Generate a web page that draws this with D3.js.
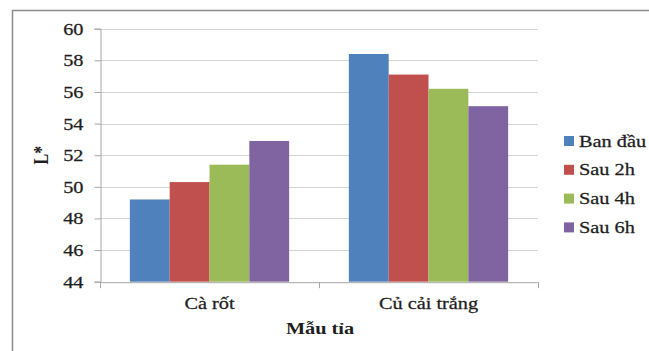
<!DOCTYPE html>
<html>
<head>
<meta charset="utf-8">
<script src="https://cdn.jsdelivr.net/npm/d3@7"></script>
<style>
  html, body { margin: 0; padding: 0; background: #fff; }
  svg { display: block; }
</style>
</head>
<body>
<svg id="chart" width="649" height="351"></svg>
<script>
// Lightness (L*) of carved vegetables over time
const categories = ["Cà rốt", "Củ cải trắng"];
const seriesNames = ["Ban đầu", "Sau 2h", "Sau 4h", "Sau 6h"];
const banDau = [49.2, 58.4];
const sau2h  = [50.3, 57.1];
const sau4h  = [51.4, 56.2];
const sau6h  = [52.9, 55.1];
const yTicks = [44, 46, 48, 50, 52, 54, 56, 58, 60];
const colors = ["#4f81bd", "#c0504d", "#9bbb59", "#8064a2"];

const seriesValues = [banDau, sau2h, sau4h, sau6h];
const SX = 1.27; // horizontal text stretch
const FS = 16;
const FONT = "'Liberation Serif', 'DejaVu Serif', serif";

const svg = d3.select("#chart");

function styleText(sel, bold) {
  return sel.style("font-family", FONT)
    .style("font-size", FS + "px")
    .style("font-weight", bold ? "bold" : "normal")
    .style("fill", "#1e1e1e")
    .style("stroke", "#1e1e1e")
    .style("stroke-width", bold ? 0 : 0.25);
}

// outer chart frame
svg.append("rect")
  .attr("x", 12.5).attr("y", 10.5)
  .attr("width", 700).attr("height", 400)
  .attr("fill", "none").attr("stroke", "#8c8c8c").attr("stroke-width", 1.5);

const plot = { left: 100, right: 538, top: 28.7, bottom: 281.7 };

const x0 = d3.scaleBand().domain(categories).range([plot.left, plot.right]);
const inner = 4 / (4 + 1.5);
const x1 = d3.scaleBand().domain(seriesNames)
  .range([0, x0.bandwidth() * inner]);
const y = d3.scaleLinear().domain([44, 60]).range([plot.bottom, plot.top]);

// gridlines
svg.append("g").selectAll("line").data(yTicks.slice(1)).join("line")
  .attr("x1", plot.left).attr("x2", plot.right)
  .attr("y1", d => Math.round(y(d)) + 0.5).attr("y2", d => Math.round(y(d)) + 0.5)
  .attr("stroke", "#d4d4d4").attr("stroke-width", 1.2);

// bars
const groups = svg.append("g").selectAll("g").data(categories).join("g")
  .attr("transform", c => `translate(${x0(c) + x0.bandwidth() * (1 - inner) / 2},0)`);
groups.selectAll("rect")
  .data((c, ci) => seriesNames.map((s, si) => ({ s, si, v: seriesValues[si][ci] })))
  .join("rect")
  .attr("x", d => x1(d.s))
  .attr("width", x1.bandwidth())
  .attr("y", d => y(d.v))
  .attr("height", d => y(44) - y(d.v))
  .attr("fill", d => colors[d.si]);

// y axis
const yAxis = svg.append("g").attr("transform", `translate(${plot.left + 0.5},0)`)
  .call(d3.axisLeft(y).tickValues(yTicks).tickSize(6).tickPadding(0).tickFormat(d3.format("d")));
yAxis.select(".domain").attr("stroke", "#a6a6a6");
yAxis.selectAll(".tick line").attr("stroke", "#a6a6a6");
yAxis.selectAll(".tick text").remove();
styleText(yAxis.selectAll(".tick").append("text")
  .attr("transform", `translate(-17,5.5) scale(${SX},1)`)
  .attr("text-anchor", "end")
  .text(d => d));

// x axis
const xAxis = svg.append("g").attr("transform", `translate(0,${plot.bottom + 0.5})`)
  .call(d3.axisBottom(x0).tickSize(0).tickFormat(""));
xAxis.select(".domain").attr("stroke", "#a6a6a6");
xAxis.selectAll(".tick").remove();
const edges = [plot.left, x0(categories[1]), plot.right];
xAxis.append("g").selectAll("line").data(edges).join("line")
  .attr("x1", d => d + 0.5).attr("x2", d => d + 0.5)
  .attr("y1", 0).attr("y2", 6)
  .attr("stroke", "#a6a6a6");
styleText(xAxis.append("g").selectAll("text").data(categories).join("text")
  .attr("transform", c => `translate(${x0(c) + x0.bandwidth() / 2},27) scale(${SX},1)`)
  .attr("text-anchor", "middle")
  .text(c => c));

// axis titles
styleText(svg.append("text")
  .attr("transform", `translate(${(plot.left + plot.right) / 2 + 1},334) scale(${SX},1)`)
  .attr("text-anchor", "middle")
  .text("Mẫu tỉa"), true);
styleText(svg.append("text")
  .attr("transform", `translate(48,${(plot.top + plot.bottom) / 2}) scale(${SX},1) rotate(-90)`)
  .attr("text-anchor", "middle")
  .text("L*"), true);

// legend
const legend = svg.append("g").selectAll("g").data(seriesNames).join("g")
  .attr("transform", (d, i) => `translate(564,${141 + i * 28.8})`);
legend.append("rect")
  .attr("x", 0).attr("y", -5).attr("width", 10).attr("height", 10)
  .attr("fill", (d, i) => colors[i]);
styleText(legend.append("text")
  .attr("transform", `translate(15,5.5) scale(${SX},1)`)
  .text(d => d));
</script>
</body>
</html>
